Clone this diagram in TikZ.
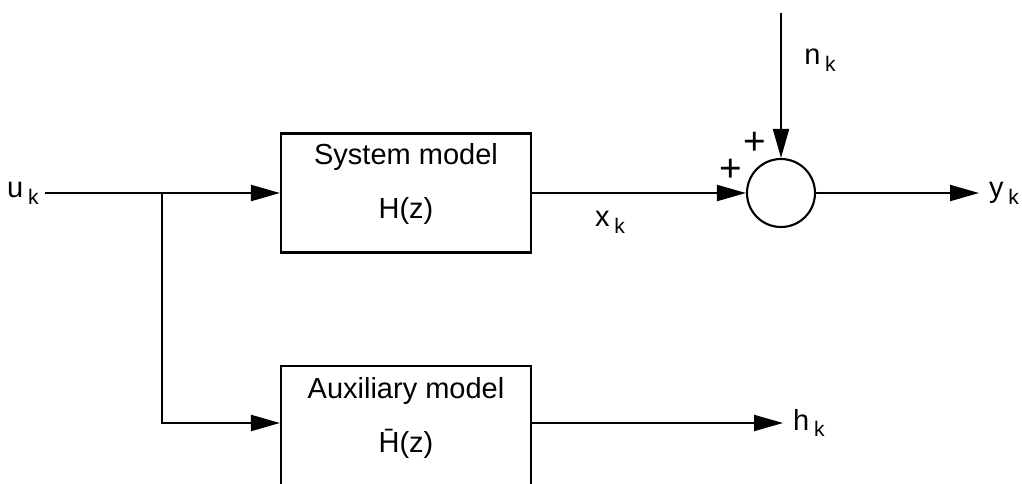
\documentclass[tikz,border=0pt]{standalone}
\usepackage{fontspec}
\setmainfont{Liberation Sans}
\usetikzlibrary{arrows.meta,calc}
\newcommand{\sig}[2]{#1\,\raisebox{-0.45ex}{\fontsize{12pt}{13pt}\selectfont #2}}

\begin{document}
\begin{tikzpicture}[
  font=\fontsize{16.5pt}{19pt}\selectfont,
  >={Triangle[length=0.58cm,width=0.32cm]},
  wire/.style={line width=1.2pt,draw=black},
  arrow/.style={wire,->},
  block/.style={draw=black,line width=1.2pt,minimum width=5.0cm,inner sep=0pt},
  sum/.style={circle,draw=black,line width=1.2pt,minimum size=1.36cm,inner sep=0pt},
  label/.style={inner sep=1pt},
  sign/.style={inner sep=0pt,font=\fontsize{22pt}{24pt}\selectfont}
]

\clip (0,0) rectangle (20.44,9.66);

% Upper path: system model
\node[block,minimum height=2.38cm] (sys) at (8.12,5.80) {};
\node[label] (systxt) at ($(sys.north)+(0,-0.50)$) {System model};
\node[label] (sysH) at ($(sys.north)+(0,-1.58)$) {H(z)};

% Lower path: auxiliary model (cut at the bottom edge)
\node[block,minimum height=2.50cm] (aux) at (8.12,1.09) {};
\node[label] (auxtxt) at ($(aux.north)+(0,-0.52)$) {Auxiliary model};
\node[label] (auxH) at ($(aux.north)+(0,-1.58)$) {\=H(z)};

% Summing junction
\node[sum] (plus) at (15.62,5.80) {};
\node[sign] (p1) at (15.10,6.80) {+};
\node[sign] (p2) at (14.62,6.26) {+};

% Signals
\node[label] (u) at (0.46,5.80) {\sig{u}{k}};
\node[label] (x) at (12.20,5.22) {\sig{x}{k}};
\node[label] (n) at (16.40,8.46) {\sig{n}{k}};
\node[label,anchor=west] (y) at (19.74,5.80) {\sig{y}{k}};
\node[label,anchor=west] (h) at (15.82,1.20) {\sig{h}{k}};

\coordinate (uin) at (0.90,5.80);
\coordinate (split) at (3.24,5.80);
\coordinate (nin) at (15.62,9.40);
\coordinate (yout) at (19.58,5.80);
\coordinate (hout) at (15.66,1.20);

% Flow
\draw[arrow] (uin) -- (sys.west);
\draw[arrow] (split) |- (aux.west |- hout);
\draw[arrow] (sys.east) -- (plus.west);
\draw[arrow] (nin) -- (plus.north);
\draw[arrow] (plus.east) -- (yout);
\draw[arrow] (aux.east |- hout) -- (hout);

\end{tikzpicture}
\end{document}
